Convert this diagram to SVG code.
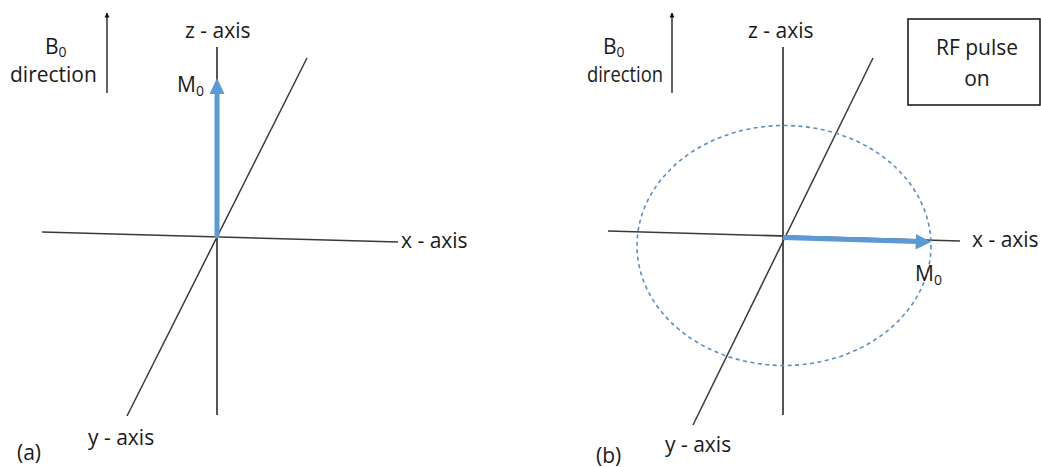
<svg xmlns="http://www.w3.org/2000/svg" width="1041" height="467" viewBox="0 0 1041 467">
<style>
text{font-family:"Open Sans","Liberation Sans",sans-serif;font-size:21px;fill:#1a1a1a}
.sub{font-size:14px}
.axis{stroke:#3a3a3a;stroke-width:1.5;fill:none}
.zax{stroke:#555;stroke-width:2;fill:none}
.b0{stroke:#111;stroke-width:1.3;fill:none}
.m0{stroke:#5B9BD5;stroke-width:5;fill:none}
.head{fill:#5B9BD5}
.circ{stroke:#5B8EC4;stroke-width:1.6;fill:none;stroke-dasharray:4 3.5}
</style>
<defs>
<marker id="bh" viewBox="0 0 10 10" refX="9" refY="5" markerWidth="5" markerHeight="6" orient="auto" markerUnits="userSpaceOnUse"><path d="M0,0 L10,5 L0,10 z" fill="#111"/></marker>
</defs>
<rect width="1041" height="467" fill="#fff"/>
<g id="connectors">
<line class="b0" x1="107" y1="93" x2="107" y2="13" marker-end="url(#bh)"/>
<line class="zax" x1="217" y1="47" x2="217" y2="415"/>
<line class="axis" x1="42" y1="232" x2="398" y2="242"/>
<line class="axis" x1="307" y1="58" x2="127" y2="416"/>
<line class="m0" x1="217" y1="238" x2="217" y2="92"/>
<polygon class="head" points="217,78 224.5,94 209.5,94"/>
<line class="b0" x1="672" y1="93" x2="672" y2="13" marker-end="url(#bh)"/>
<line class="zax" x1="783" y1="47" x2="783" y2="415"/>
<line class="axis" x1="608" y1="231" x2="960" y2="241"/>
<line class="axis" x1="873" y1="58" x2="693" y2="425"/>
<ellipse class="circ" cx="784" cy="245.5" rx="147" ry="120"/>
<line class="m0" x1="783" y1="237.5" x2="917" y2="241.5"/>
<polygon class="head" points="931,242 915.5,249.5 916,234"/>
</g>
<g id="panel-a-labels">
<text x="45" y="54">B<tspan class="sub" dy="3">0</tspan></text>
<text x="10" y="82">direction</text>
<text x="185" y="38">z - axis</text>
<text x="177" y="92">M<tspan class="sub" dy="4">0</tspan></text>
<text x="401" y="248">x - axis</text>
<text x="88" y="445">y - axis</text>
<text x="17" y="460">(a)</text>
</g>
<g id="panel-b-labels">
<text x="603" y="54">B<tspan class="sub" dy="3">0</tspan></text>
<text x="587" y="82" textLength="76" lengthAdjust="spacingAndGlyphs">direction</text>
<text x="748" y="38">z - axis</text>
<text x="915" y="281">M<tspan class="sub" dy="4">0</tspan></text>
<text x="972" y="247">x - axis</text>
<text x="665" y="452">y - axis</text>
<text x="596" y="463">(b)</text>
</g>
<g id="rf-box">
<rect x="908" y="19" width="132" height="86" fill="#fff" stroke="#111" stroke-width="1.5"/>
<text x="977" y="55" text-anchor="middle">RF pulse</text>
<text x="977" y="86" text-anchor="middle">on</text>
</g>
</svg>
